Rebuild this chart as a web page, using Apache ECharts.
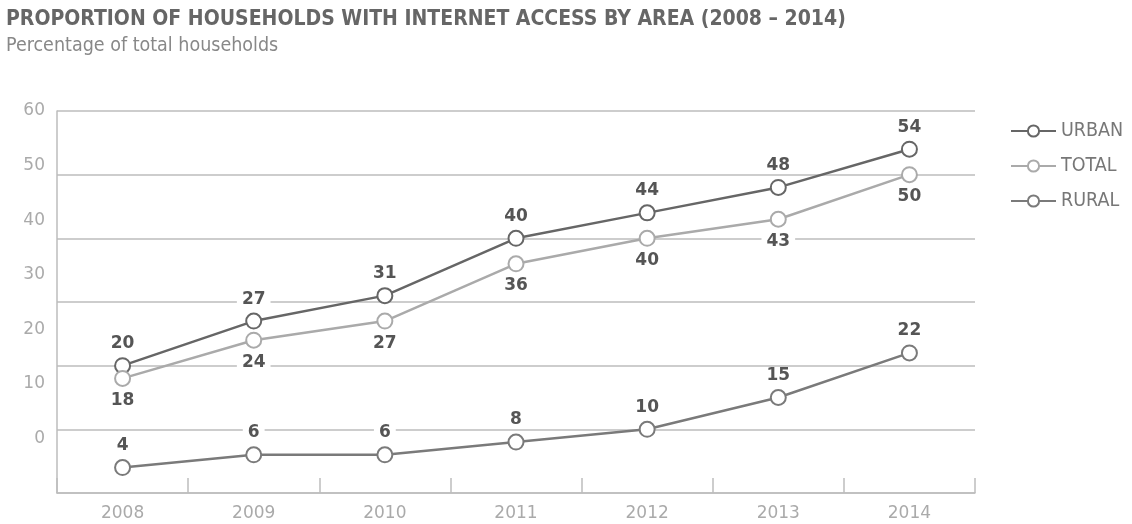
<!DOCTYPE html>
<html>
<head>
<meta charset="utf-8">
<script src="https://cdn.jsdelivr.net/npm/echarts@6/dist/echarts.min.js"></script>
<style>
  html, body { margin: 0; padding: 0; background: #fff; }
  #chart { width: 1132px; height: 524px; }
</style>
</head>
<body>
<div id="chart"></div>
<script>
const years = ["2008", "2009", "2010", "2011", "2012", "2013", "2014"];
const urban = [20, 27, 31, 40, 44, 48, 54];
const total = [18, 24, 27, 36, 40, 43, 50];
const rural = [4, 6, 6, 8, 10, 15, 22];
// tick labels printed on the left (they sit offset from the gridlines in the original)
const yTickLabels = [0, 10, 20, 30, 40, 50, 60];

const narrow = "'Liberation Sans Narrow', 'DejaVu Sans Condensed', sans-serif";
const gridColor = "#bdbdbd";

function lineSeries(name, data, color, labelPos) {
  return {
    name: name,
    type: "line",
    data: data,
    symbol: "emptyCircle",
    symbolSize: 15,
    lineStyle: { color: color, width: 2.5 },
    itemStyle: { color: color, borderColor: color, borderWidth: 2.5 },
    label: {
      show: true,
      position: labelPos,
      distance: 5,
      color: "#555",
      fontFamily: "DejaVu Sans",
      fontWeight: "bold",
      fontSize: 17,
      backgroundColor: "#fff",
      padding: [0, 5],
    },
    emphasis: { disabled: true },
  };
}

const myChart = echarts.init(document.getElementById("chart"));
myChart.setOption({
  animation: false,
  title: [
    {
      text: "PROPORTION OF HOUSEHOLDS WITH INTERNET ACCESS BY AREA (2008 – 2014)",
      left: 1,
      top: 4,
      textStyle: { color: "#666", fontFamily: narrow, fontWeight: "bold", fontSize: 21 },
    },
    {
      text: "Percentage of total households",
      left: 1,
      top: 31,
      textStyle: { color: "#888", fontFamily: narrow, fontWeight: "normal", fontSize: 19.5 },
    },
  ],
  legend: {
    orient: "vertical",
    left: 1005,
    top: 116,
    itemWidth: 45,
    itemHeight: 14,
    itemGap: 15,
    textStyle: { color: "#777", fontFamily: narrow, fontSize: 19.5 },
    data: ["URBAN", "TOTAL", "RURAL"],
  },
  grid: { left: 57, right: 157, top: 111, bottom: 31 },
  xAxis: {
    type: "category",
    data: years,
    boundaryGap: true,
    axisLine: { lineStyle: { color: gridColor, width: 1.5 } },
    axisTick: { show: true, interval: 0, inside: true, length: 15, lineStyle: { color: gridColor, width: 1.5 } },
    axisLabel: { color: "#aaa", fontFamily: "DejaVu Sans", fontSize: 17, margin: 12 },
  },
  yAxis: [
    {
      type: "value",
      min: 0,
      max: 60,
      interval: 10,
      axisLine: { show: true, lineStyle: { color: gridColor, width: 1.5 } },
      axisTick: { show: false },
      axisLabel: { show: false },
      splitLine: { lineStyle: { color: gridColor, width: 1.5 } },
    },
    {
      type: "value",
      position: "left",
      min: -10,
      max: 60,
      interval: 10,
      axisLine: { show: false },
      axisTick: { show: false },
      splitLine: { show: false },
      axisLabel: {
        color: "#aaa",
        fontFamily: "DejaVu Sans",
        fontSize: 17,
        margin: 12,
        formatter: (v) => (yTickLabels.indexOf(v) >= 0 ? String(v) : ""),
      },
    },
  ],
  series: [
    lineSeries("URBAN", urban, "#666", "top"),
    lineSeries("TOTAL", total, "#aaa", "bottom"),
    lineSeries("RURAL", rural, "#7a7a7a", "top"),
  ],
});
</script>
</body>
</html>
